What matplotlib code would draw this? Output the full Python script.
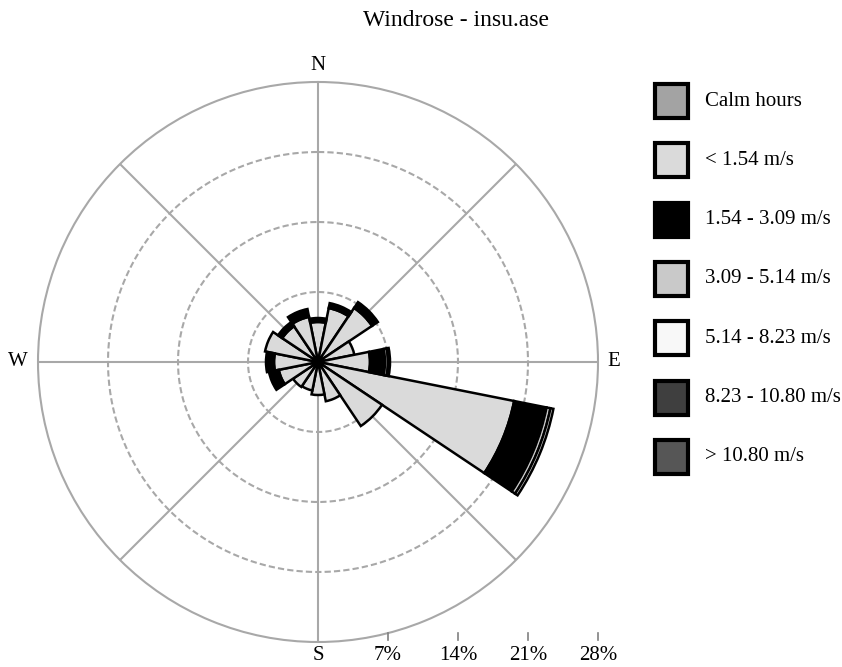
import numpy as np
import matplotlib
matplotlib.use('Agg')
import matplotlib.pyplot as plt
from matplotlib.patches import Rectangle

plt.rcParams['font.family'] = ['Liberation Serif', 'DejaVu Serif']

# 16 compass sectors, frequencies in % per speed class
directions = ['N', 'NNE', 'NE', 'ENE', 'E', 'ESE', 'SE', 'SSE',
              'S', 'SSW', 'SW', 'WSW', 'W', 'WNW', 'NW', 'NNW']
speed_lt154 = [4.0, 5.5, 6.5, 3.7, 5.2, 20.0, 7.7, 4.0,
               3.3, 2.9, 3.0, 4.0, 4.4, 5.4, 4.3, 4.6]
speed_154_309 = [0.4, 0.5, 0.7, 0.0, 1.5, 3.3, 0.0, 0.0,
                 0.0, 0.0, 0.0, 1.0, 0.8, 0.0, 0.5, 0.8]
speed_309_514 = [0.0, 0.0, 0.0, 0.0, 0.3, 0.4, 0.0, 0.0,
                 0.0, 0.0, 0.0, 0.0, 0.0, 0.0, 0.0, 0.0]
speed_514_823 = [0.0, 0.0, 0.0, 0.0, 0.2, 0.3, 0.0, 0.0,
                 0.0, 0.0, 0.0, 0.0, 0.0, 0.0, 0.0, 0.0]
speed_823_1080 = [0.0] * 16
speed_gt1080 = [0.0] * 16

legend_labels = ['Calm hours', '< 1.54 m/s', '1.54 - 3.09 m/s', '3.09 - 5.14 m/s',
                 '5.14 - 8.23 m/s', '8.23 - 10.80 m/s', '> 10.80 m/s']
legend_colors = ['#a3a3a3', '#dadada', '#000000', '#c9c9c9',
                 '#f8f8f8', '#3f3f3f', '#565656']
ring_values = [7, 14, 21, 28]
ring_labels = ['7%', '14%', '21%', '28%']

W, H = 842, 667
fig = plt.figure(figsize=(W / 100, H / 100), dpi=100)
ax = fig.add_axes([38 / W, 25 / H, 560 / W, 560 / H], projection='polar')
ax.set_theta_zero_location('N')
ax.set_theta_direction(-1)
ax.set_ylim(0, 28)
ax.set_xticks([])
ax.set_yticks([])
ax.grid(False)
ax.spines['polar'].set_color('#a8a8a8')
ax.spines['polar'].set_linewidth(1.5)

# grid: dashed rings and 8 radial spokes
th = np.linspace(0, 2 * np.pi, 400)
for r in ring_values[:-1]:
    ax.plot(th, np.full_like(th, r), color='#a8a8a8', lw=1.5, ls=(0, (3, 1.5)), zorder=1)
for a in np.deg2rad(np.arange(0, 360, 45)):
    ax.plot([a, a], [0, 28], color='#a8a8a8', lw=1.5, zorder=1)

# stacked sectors
angles = np.deg2rad(np.arange(16) * 22.5)
width = 2 * np.pi / 16
bins = [speed_lt154, speed_154_309, speed_309_514, speed_514_823,
        speed_823_1080, speed_gt1080]
bottom = np.zeros(16)
for vals, col in zip(bins, legend_colors[1:]):
    vals = np.array(vals)
    m = vals > 0
    if m.any():
        ax.bar(angles[m], vals[m], width=width, bottom=bottom[m], color=col,
               edgecolor='black', linewidth=1.8, zorder=3)
    bottom += vals

# overlay in pixel coordinates for labels and legend
lay = fig.add_axes([0, 0, 1, 1])
lay.set_xlim(0, W)
lay.set_ylim(H, 0)
lay.axis('off')

fig.canvas.draw()
cx, cy = ax.transData.transform((0, 0))
cy = H - cy

fs = 15
lay.text(456, 20, 'Windrose - insu.ase', ha='center', va='center', fontsize=17)
lay.text(cx, 65, 'N', ha='center', va='center', fontsize=fs)
lay.text(cx, 656, 'S', ha='center', va='center', fontsize=fs)
lay.text(614, cy, 'E', ha='center', va='center', fontsize=fs)
lay.text(18, cy, 'W', ha='center', va='center', fontsize=fs)

for r, lab in zip(ring_values, ring_labels):
    x, _ = ax.transData.transform((np.pi / 2, r))
    lay.plot([x, x], [633, 640], color='#808080', lw=1.2)
    lay.text(x, 656, lab, ha='center', va='center', fontsize=fs)

for i, (lab, col) in enumerate(zip(legend_labels, legend_colors)):
    y = 84 + i * 59.3
    lay.add_patch(Rectangle((655, y), 33, 34, facecolor=col, edgecolor='black', lw=3))
    lay.text(705, y + 17, lab, ha='left', va='center', fontsize=fs)

fig.savefig('out.png', dpi=100)
